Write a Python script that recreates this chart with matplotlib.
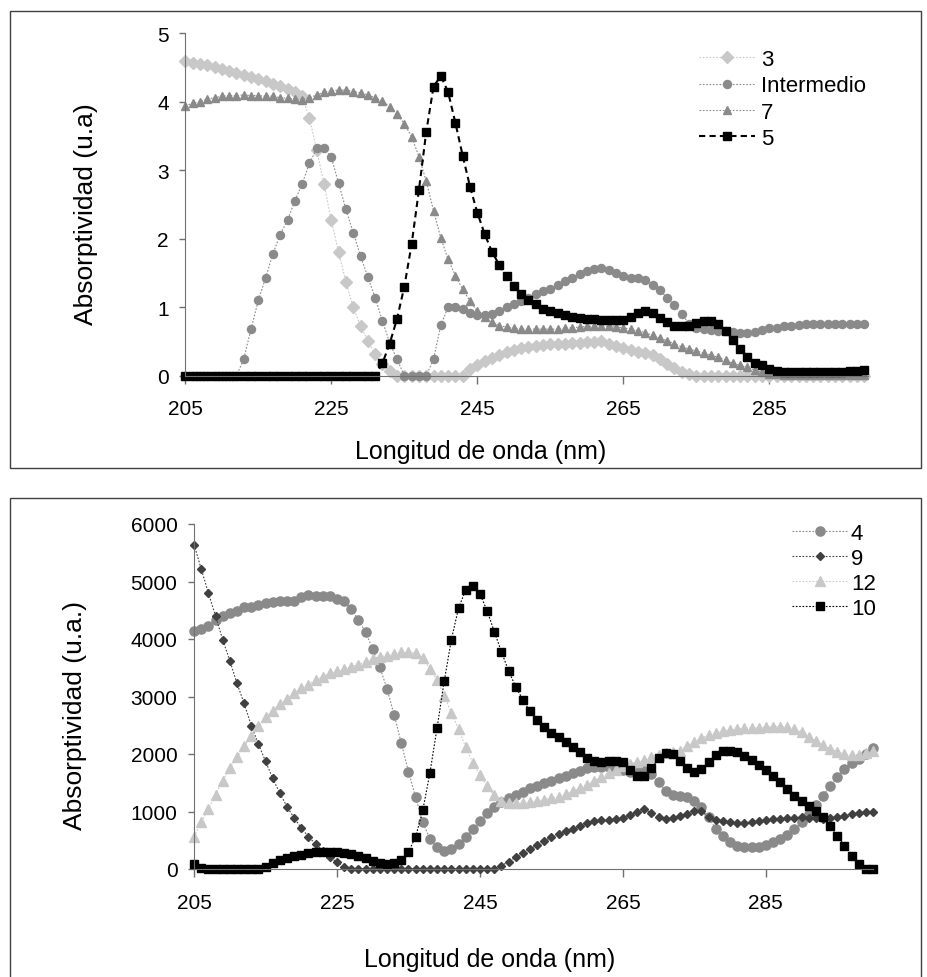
import matplotlib.pyplot as plt
from matplotlib.patches import Rectangle
import numpy as np

plt.rcParams['font.family'] = ['Liberation Sans', 'DejaVu Sans']

# ---- top chart data (205-298 nm, 1 nm step) ----
wl_top = np.arange(205, 299)

s3 = [4.60, 4.57, 4.55, 4.53, 4.51, 4.48, 4.45, 4.42, 4.39, 4.36, 4.33, 4.30, 4.26, 4.23, 4.19, 4.15, 4.08,
      3.76, 3.30, 2.80, 2.27, 1.80, 1.37, 1.00, 0.73, 0.51, 0.32, 0.17, 0.07,
      0, 0, 0, 0, 0, 0, 0, 0, 0, 0,
      0.10, 0.16, 0.21, 0.26, 0.30, 0.34, 0.37, 0.40, 0.42, 0.44, 0.45, 0.46, 0.47, 0.47, 0.48, 0.48, 0.49, 0.49, 0.50,
      0.47, 0.44, 0.40, 0.37, 0.35, 0.33, 0.30, 0.24, 0.17, 0.11, 0.06, 0.02,
      0, 0, 0, 0, 0, 0, 0, 0, 0, 0, 0, 0, 0, 0, 0, 0, 0, 0, 0, 0, 0, 0, 0, 0]

intermedio = [0, 0, 0, 0, 0, 0, 0, 0,
              0.24, 0.68, 1.10, 1.43, 1.78, 2.06, 2.27, 2.55, 2.80, 3.10, 3.32, 3.32, 3.19, 2.81, 2.43, 2.09,
              1.75, 1.44, 1.14, 0.80, 0.48, 0.24,
              0, 0, 0, 0,
              0.24, 0.74, 1.00, 1.01, 0.98, 0.92, 0.89, 0.88, 0.90, 0.95, 1.00, 1.04, 1.09, 1.14, 1.19, 1.23,
              1.27, 1.32, 1.38, 1.43, 1.48, 1.53, 1.56, 1.58,
              1.54, 1.50, 1.45, 1.43, 1.42, 1.40, 1.32, 1.25, 1.14, 1.03, 0.90, 0.76, 0.69, 0.68, 0.67, 0.66,
              0.65, 0.64, 0.63, 0.63, 0.64, 0.67, 0.69, 0.70, 0.72, 0.73, 0.74, 0.75, 0.76, 0.76, 0.75, 0.75,
              0.75, 0.75, 0.75, 0.75]

s7 = [3.94, 3.98, 4.00, 4.04, 4.06, 4.08, 4.09, 4.09, 4.10, 4.09, 4.09, 4.08, 4.08, 4.06, 4.05, 4.04, 4.03,
      4.06, 4.10, 4.14, 4.16, 4.17, 4.17, 4.15, 4.13, 4.10, 4.06, 4.01, 3.93, 3.82, 3.68, 3.49, 3.20,
      2.84, 2.41, 2.01, 1.70, 1.46, 1.26, 1.09, 0.94, 0.85, 0.78, 0.73, 0.71, 0.69, 0.68, 0.68, 0.68,
      0.68, 0.68, 0.68,
      0.69, 0.70, 0.71, 0.72, 0.72, 0.73, 0.72, 0.71, 0.70, 0.68, 0.66, 0.63, 0.59, 0.55, 0.51, 0.47,
      0.42, 0.39, 0.36, 0.33, 0.30, 0.27, 0.23, 0.18, 0.15, 0.12, 0.08, 0.05, 0.03, 0.02,
      0.01, 0.01, 0.01, 0.01, 0.01, 0.01, 0.01, 0.01, 0.01, 0.01, 0.01, 0.01]

s5 = [0] * 27 + [
      0.18, 0.47, 0.83, 1.30, 1.92, 2.71, 3.56, 4.22, 4.38, 4.14, 3.69, 3.21, 2.76, 2.38, 2.07, 1.81,
      1.62, 1.45, 1.31, 1.20, 1.11, 1.04, 0.97, 0.94, 0.91, 0.88, 0.86, 0.84, 0.83, 0.83, 0.82, 0.82,
      0.81, 0.82, 0.86, 0.91, 0.94,
      0.91, 0.84, 0.78, 0.73, 0.72, 0.73, 0.77, 0.80, 0.80, 0.75, 0.66, 0.52, 0.39, 0.28, 0.19, 0.15,
      0.10, 0.07, 0.06, 0.05, 0.05, 0.05, 0.05, 0.05, 0.06, 0.06, 0.06, 0.07, 0.07, 0.08]

# ---- bottom chart data (205-300 nm, 1 nm step) ----
wl_bot = np.arange(205, 301)

s4 = [4133, 4174, 4232, 4330, 4406, 4446, 4493, 4551, 4562, 4597, 4620, 4638, 4655, 4655, 4667, 4725,
      4765, 4754, 4754, 4754, 4696, 4655, 4522, 4330, 4116, 3826, 3507, 3130, 2678, 2186, 1693, 1246,
      812, 522, 377, 307, 348, 435, 562, 696, 829, 968, 1072, 1159, 1235, 1293, 1345, 1403, 1449, 1490,
      1536, 1577, 1612, 1664, 1710, 1757, 1780,
      1780, 1770, 1745, 1715, 1690, 1690, 1700, 1650, 1507, 1360, 1285, 1275, 1250, 1188, 1072, 899,
      696, 580, 464, 406, 377, 377, 388, 423, 464, 522, 597, 696, 812, 957, 1113, 1275, 1449, 1606,
      1739, 1838, 1913, 2000, 2099]

s9 = [5641, 5217, 4800, 4400, 3988, 3623, 3229, 2881, 2493, 2174, 1872, 1577, 1316, 1084, 887, 713,
      562, 435, 319, 203, 116, 41] + [0] * 21 + [
      58, 128, 203, 278, 348, 417, 493, 551, 609, 655, 696, 754, 800, 841, 852, 858, 870, 887, 939, 997,
      1043, 968, 899, 870, 887, 928, 957, 1003, 1003, 899, 852, 841, 812, 800, 800, 812, 829, 852, 870,
      870, 887, 887, 899, 887, 887, 870, 887, 910, 928, 957, 974, 986, 997]

s12 = [562, 812, 1043, 1293, 1536, 1751, 1942, 2133, 2319, 2487, 2638, 2754, 2870, 2957, 3055, 3148,
       3206, 3293, 3345, 3403, 3438, 3478, 3519, 3554, 3606, 3652, 3693, 3710, 3739, 3768, 3768, 3751,
       3670, 3480, 3293, 3014, 2720, 2435, 2116, 1850, 1635, 1440, 1280, 1175, 1150, 1140, 1142, 1159,
       1177, 1200, 1229, 1258, 1304, 1351, 1403, 1467, 1536, 1594, 1664, 1722, 1797, 1826, 1855, 1896,
       1950,
       1990, 2020, 2040, 2058, 2145, 2214, 2278, 2330, 2365, 2394, 2417, 2435, 2446, 2452, 2458, 2464,
       2475, 2475, 2464, 2435, 2377, 2301, 2232, 2157, 2087, 2041, 2000, 1988, 1988, 2017, 2046]

s10 = [87, 20, 0, 0, 0, 0, 0, 0, 0, 0,
       41, 100, 150, 195, 225, 250, 275, 290, 295, 298, 295, 280, 255, 220, 185, 140, 105, 90, 100, 165,
       300, 560,
       1020, 1672, 2455, 3265, 3990, 4536, 4852, 4922, 4783, 4493, 4130, 3780, 3449, 3171, 2945, 2740,
       2594, 2464, 2365, 2301, 2214, 2116, 2029, 1925, 1884, 1855, 1884, 1884, 1855, 1722, 1623, 1623,
       1750, 1925,
       2012, 2000, 1884, 1751, 1681, 1739, 1855, 1988, 2058, 2058, 2029, 1971, 1896, 1814, 1722, 1623,
       1507, 1391, 1275, 1188, 1101, 1014, 899, 754, 580, 406, 232, 87, 0, 0]

xticks = [205, 225, 245, 265, 285]

W, H = 927, 978
fig = plt.figure(figsize=(W / 100, H / 100), dpi=100)


def px_axes(left, top, right, bottom):
    return fig.add_axes([left / W, 1 - bottom / H, (right - left) / W, (bottom - top) / H])


def style(ax):
    for s in ['top', 'right']:
        ax.spines[s].set_visible(False)
    for s in ['left', 'bottom']:
        ax.spines[s].set_color('#707070')
    ax.tick_params(axis='x', direction='out', length=6, width=1, color='#707070', pad=11, labelsize=15)
    ax.tick_params(axis='y', direction='out', length=4, width=1, color='#707070', pad=8, labelsize=15)
    ax.set_xticks(xticks)


dot = (0, (1.5, 1.5))

# ---- top ----
ax1 = px_axes(185.3, 34.3, 867.9, 376.7)
ax1.plot(wl_top, s3, linestyle=dot, lw=0.8, color='#c8c8c8', marker='D', ms=6.3,
         mfc='#c8c8c8', mec='#c8c8c8', label='3', clip_on=False)
ax1.plot(wl_top, intermedio, linestyle=dot, lw=0.8, color='#8a8a8a', marker='o', ms=5.8,
         mfc='#8a8a8a', mec='#8a8a8a', label='Intermedio', clip_on=False)
ax1.plot(wl_top, s7, linestyle=dot, lw=0.8, color='#8a8a8a', marker='^', ms=6.2,
         mfc='#8a8a8a', mec='#8a8a8a', label='7', clip_on=False)
ax1.plot(wl_top, s5, linestyle=(0, (3, 2)), lw=1.5, color='black', marker='s', ms=5.2,
         mfc='black', mec='black', label='5', clip_on=False)
ax1.set_xlim(205, 298.5)
ax1.set_ylim(0, 5)
ax1.set_yticks(range(0, 6))
style(ax1)
ax1.set_xlabel('Longitud de onda (nm)', fontsize=18)
ax1.xaxis.label.set_va('center')
ax1.xaxis.set_label_coords(0.432, -0.22)
ax1.set_ylabel('Absorptividad (u.a)', fontsize=19)
ax1.yaxis.label.set_va('center')
ax1.yaxis.set_label_coords(-0.145, 0.475)
ax1.legend(frameon=False, loc='upper left', bbox_to_anchor=(699 / W, 1 - 50 / H),
           bbox_transform=fig.transFigure, fontsize=16, handlelength=2.5, handletextpad=0.3,
           labelspacing=0.24, borderpad=0, borderaxespad=0)

# ---- bottom ----
ax2 = px_axes(194.1, 525, 873.0, 870)
ax2.plot(wl_bot, s4, linestyle=dot, lw=0.8, color='#8a8a8a', marker='o', ms=6.6,
         mfc='#8a8a8a', mec='#8a8a8a', label='4', clip_on=False)
ax2.plot(wl_bot, s9, linestyle=dot, lw=0.8, color='#404040', marker='D', ms=3.8,
         mfc='#404040', mec='#404040', label='9', clip_on=False)
ax2.plot(wl_bot, s12, linestyle=dot, lw=0.8, color='#c8c8c8', marker='^', ms=6.6,
         mfc='#c8c8c8', mec='#c8c8c8', label='12', clip_on=False)
ax2.plot(wl_bot, s10, linestyle=dot, lw=0.8, color='black', marker='s', ms=5.6,
         mfc='black', mec='black', label='10', clip_on=False)
ax2.set_xlim(205, 300)
ax2.set_ylim(0, 6000)
ax2.set_yticks(range(0, 7000, 1000))
style(ax2)
ax2.set_xlabel('Longitud de onda (nm)', fontsize=18)
ax2.xaxis.label.set_va('center')
ax2.xaxis.set_label_coords(0.436, -0.261)
ax2.set_ylabel('Absorptividad (u.a.)', fontsize=19)
ax2.yaxis.label.set_va('center')
ax2.yaxis.set_label_coords(-0.175, 0.449)
ax2.legend(frameon=False, loc='upper left', bbox_to_anchor=(792 / W, 1 - 524 / H),
           bbox_transform=fig.transFigure, fontsize=16, handlelength=2.5, handletextpad=0.15,
           labelspacing=0.18, borderpad=0, borderaxespad=0)

# panel frames
fig.add_artist(Rectangle((10 / W, 1 - 469 / H), 911 / W, 457 / H, transform=fig.transFigure,
                         fill=False, ec='#404040', lw=1))
fig.add_artist(Rectangle((10 / W, -0.05), 911 / W, 1 - 499 / H + 0.05, transform=fig.transFigure,
                         fill=False, ec='#404040', lw=1))

fig.savefig('out.png', dpi=100)
